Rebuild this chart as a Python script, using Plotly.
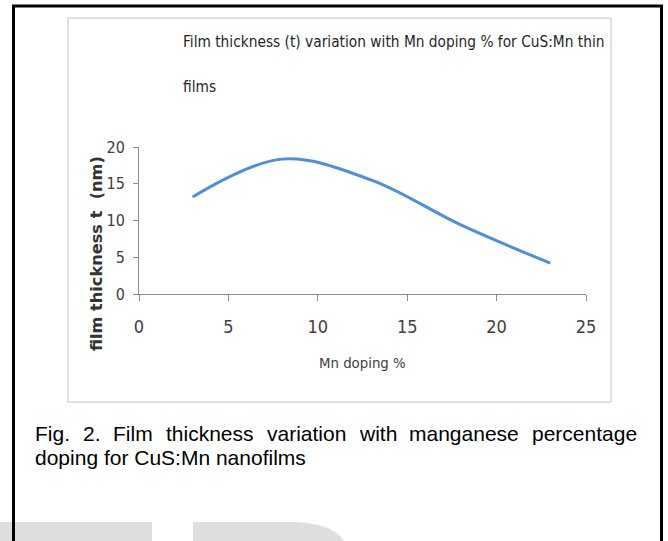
import plotly.graph_objects as go

# ---- data ----
mn_doping = [3, 8, 13, 18, 23]
thickness = [13.2, 18.35, 15.5, 9.4, 4.2]
x_ticks = [0, 5, 10, 15, 20, 25]
y_ticks = [0, 5, 10, 15, 20]

title_line1 = "Film thickness (t) variation with Mn doping % for CuS:Mn thin"
title_line2 = "films"
x_title = "Mn doping %"
y_title = "film thickness t  (nm)"
caption_line1_words = ["Fig.", "2.", "Film", "thickness", "variation", "with", "manganese", "percentage"]
caption_line2 = "doping for CuS:Mn nanofilms"

W, H = 668, 541
ML, MR, MT, MB = 139, 82, 147, 247
PW = W - ML - MR
PH = H - MT - MB


def px(x):
    return (x - ML) / PW


def py(y):
    return (H - MB - y) / PH


NARROW = "DejaVu Sans Condensed, Liberation Sans Narrow, sans-serif"
ARIAL = "Liberation Sans, Arial, sans-serif"
DEJAVU = "DejaVu Sans, sans-serif"

fig = go.Figure()
fig.add_trace(go.Scatter(
    x=mn_doping, y=thickness, mode="lines",
    line=dict(color="#4F8FD6", width=3, shape="spline", smoothing=1.0),
    showlegend=False, hoverinfo="skip",
))

axis_col = "#8c8c8c"
fig.update_xaxes(
    range=[0, 25], tickvals=x_ticks, ticktext=[str(v) for v in x_ticks],
    showgrid=False, zeroline=False, showline=True, linecolor=axis_col, linewidth=1,
    ticks="outside", ticklen=6, tickcolor=axis_col, ticklabelstandoff=10,
    tickfont=dict(family=NARROW, size=18, color="#404040"),
)
fig.update_yaxes(
    range=[0, 20], tickvals=y_ticks, ticktext=[str(v) for v in y_ticks],
    showgrid=False, zeroline=False, showline=True, linecolor=axis_col, linewidth=1,
    ticks="outside", ticklen=5, tickcolor=axis_col, ticklabelstandoff=5,
    tickfont=dict(family=NARROW, size=16, color="#404040"),
)

shapes = []
gray = "#dedede"
shapes.append(dict(type="rect", xref="paper", yref="paper",
                   x0=px(0), x1=px(152), y0=py(522), y1=py(545),
                   fillcolor=gray, line=dict(width=0), layer="above"))
path = "M {a},{b} L {c},{b} C {d},{b} {e},{f} {g},{h} L {a},{h} Z".format(
    a=px(193), b=py(522), c=px(290), d=px(320), e=px(340), f=py(530), g=px(346), h=py(545))
shapes.append(dict(type="path", xref="paper", yref="paper", path=path,
                   fillcolor=gray, line=dict(width=0), layer="above"))
shapes.append(dict(type="rect", xref="paper", yref="paper",
                   x0=px(68), x1=px(611), y0=py(402), y1=py(18),
                   line=dict(color="#c4c4c4", width=1), fillcolor="rgba(0,0,0,0)", layer="above"))
frame = "M {a},{b} L {a},{c} L {d},{c} L {d},{b}".format(a=px(13.5), b=py(545), c=py(6), d=px(661.5))
shapes.append(dict(type="path", xref="paper", yref="paper", path=frame,
                   line=dict(color="#000000", width=3), layer="above"))

ann = []
ann.append(dict(text=title_line1, xref="paper", yref="paper", x=px(181), y=py(42),
                xanchor="left", yanchor="middle", showarrow=False,
                font=dict(family=NARROW, size=15.3, color="#262626")))
ann.append(dict(text=title_line2, xref="paper", yref="paper", x=px(181), y=py(87),
                xanchor="left", yanchor="middle", showarrow=False,
                font=dict(family=NARROW, size=15.3, color="#262626")))
ann.append(dict(text=x_title, xref="paper", yref="paper", x=px(362), y=py(362),
                xanchor="center", yanchor="middle", showarrow=False,
                font=dict(family=NARROW, size=14.8, color="#404040")))
ann.append(dict(text="<b>" + y_title + "</b>", xref="paper", yref="paper", x=px(96), y=py(254),
                xanchor="center", yanchor="middle", showarrow=False, textangle=-90,
                font=dict(family=DEJAVU, size=16.2, color="#333333")))

# justified first caption line (Arial advance widths in em)
cap_size = 21
word_em = [1.667, 0.834, 1.888, 4.168, 3.779, 1.778, 5.225, 5.003]
cap_left, cap_right = 33, 635
gap = (cap_right - cap_left - sum(word_em) * cap_size) / (len(word_em) - 1)
xx = cap_left
for wd, em in zip(caption_line1_words, word_em):
    ann.append(dict(text=wd, xref="paper", yref="paper", x=px(xx), y=py(433),
                    xanchor="left", yanchor="middle", showarrow=False,
                    font=dict(family=ARIAL, size=cap_size, color="#000000")))
    xx += em * cap_size + gap
ann.append(dict(text=caption_line2, xref="paper", yref="paper", x=px(33), y=py(457),
                xanchor="left", yanchor="middle", showarrow=False,
                font=dict(family=ARIAL, size=cap_size, color="#000000")))

fig.update_layout(
    width=W, height=H, margin=dict(l=ML, r=MR, t=MT, b=MB, pad=0),
    paper_bgcolor="white", plot_bgcolor="white",
    shapes=shapes, annotations=ann, showlegend=False,
)
fig.write_html("out.html", config={"displayModeBar": False},
               post_script="document.body.style.margin='0';document.body.style.overflow='hidden';")
